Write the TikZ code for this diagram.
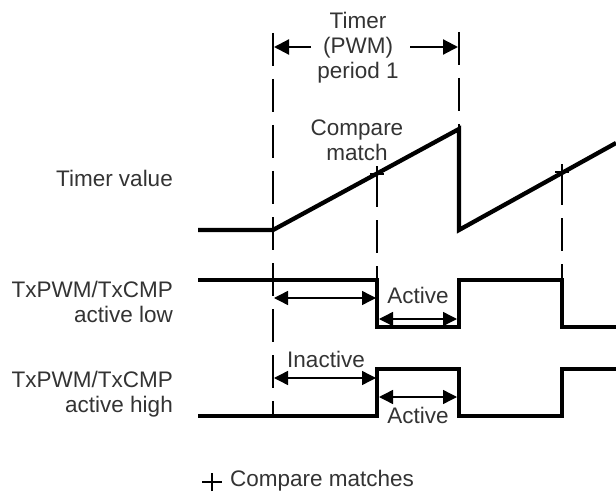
\documentclass[tikz,border=0pt]{standalone}
\usepackage{fontspec}
\setmainfont{Liberation Sans}
\usetikzlibrary{arrows.meta}
\begin{document}
\begin{tikzpicture}[x=1pt,y=-1pt,
  lbl/.style={inner sep=0pt,font=\fontsize{22.5}{25}\selectfont,text=black!80},
  wave/.style={line width=4pt,line join=miter},
  ramp/.style={line width=4.3pt,line join=miter},
  guide/.style={line width=2.3pt,dash pattern=on 33pt off 13pt},
  dimarrow/.style={line width=1.4pt,{Triangle[length=14pt,width=14pt]}-{Triangle[length=14pt,width=14pt]}},
  perarrow/.style={line width=2.2pt,-{Triangle[length=15pt,width=15pt]}},
  crossmark/.style={line width=1.6pt}]
\useasboundingbox (0,0) rectangle (616,492);
% labels
\node[lbl,align=center] (title) at (358,48) {Timer\\(PWM)\\period 1};
\node[lbl,align=center] (cm) at (357,140) {Compare\\match};
\node[lbl,anchor=east] (tv) at (173,178) {Timer value};
\node[lbl,anchor=east,align=right] (al) at (173,302) {TxPWM/TxCMP\\active low};
\node[lbl,anchor=east,align=right] (ah) at (173,394) {TxPWM/TxCMP\\active high};
\node[lbl] (act1) at (418,295) {Active};
\node[lbl] (inact) at (326,359) {Inactive};
\node[lbl] (act2) at (418,415) {Active};
\node[lbl,anchor=west] (leg) at (230,481) {Compare matches};
% coordinates
\coordinate (t0) at (198,230);
\coordinate (t1) at (273,230);
\coordinate (t2) at (459,129);
\coordinate (t3) at (459,230);
\coordinate (t4) at (616,143);
\coordinate (m1) at (377,174);
\coordinate (m2) at (562,172);
% guides
\draw[guide] (273,33) -- (273,416);
\draw[guide] (459,32) -- (t2);
\draw[guide] (m1) -- (377,280);
\draw[guide] (m2) -- (562,280);
% timer value
\draw[ramp] (t0) -- (t1) -- (t2) -- (t3) -- (t4);
% compare match crosses
\draw[crossmark] ([xshift=-7pt]m1) -- ([xshift=7pt]m1) ([yshift=-8pt]m1) -- ([yshift=8pt]m1);
\draw[crossmark] ([xshift=-7pt]m2) -- ([xshift=7pt]m2) ([yshift=-8pt]m2) -- ([yshift=8pt]m2);
% waveforms
\draw[wave] (198,280) -- (377,280) -- (377,327) -- (459,327) -- (459,280) -- (562,280) -- (562,327) -- (616,327);
\draw[wave] (198,416) -- (377,416) -- (377,369) -- (459,369) -- (459,416) -- (562,416) -- (562,369) -- (616,369);
% period arrows
\coordinate (pa1) at (311,47); \coordinate (pa1e) at (274,47);
\coordinate (pa2) at (410,47); \coordinate (pa2e) at (458,47);
\draw[perarrow] (pa1) -- (pa1e);
\draw[perarrow] (pa2) -- (pa2e);
% interval arrows
\coordinate (a1) at (274,298); \coordinate (a1e) at (376,298);
\coordinate (a2) at (379,319); \coordinate (a2e) at (457,319);
\coordinate (a3) at (274,378); \coordinate (a3e) at (376,378);
\coordinate (a4) at (379,397); \coordinate (a4e) at (457,397);
\draw[dimarrow] (a1) -- (a1e);
\draw[dimarrow] (a2) -- (a2e);
\draw[dimarrow] (a3) -- (a3e);
\draw[dimarrow] (a4) -- (a4e);
% legend cross
\coordinate (lc) at (212,482);
\draw[crossmark] ([xshift=-10pt]lc) -- ([xshift=10pt]lc) ([yshift=-9pt]lc) -- ([yshift=9pt]lc);
\end{tikzpicture}
\end{document}
